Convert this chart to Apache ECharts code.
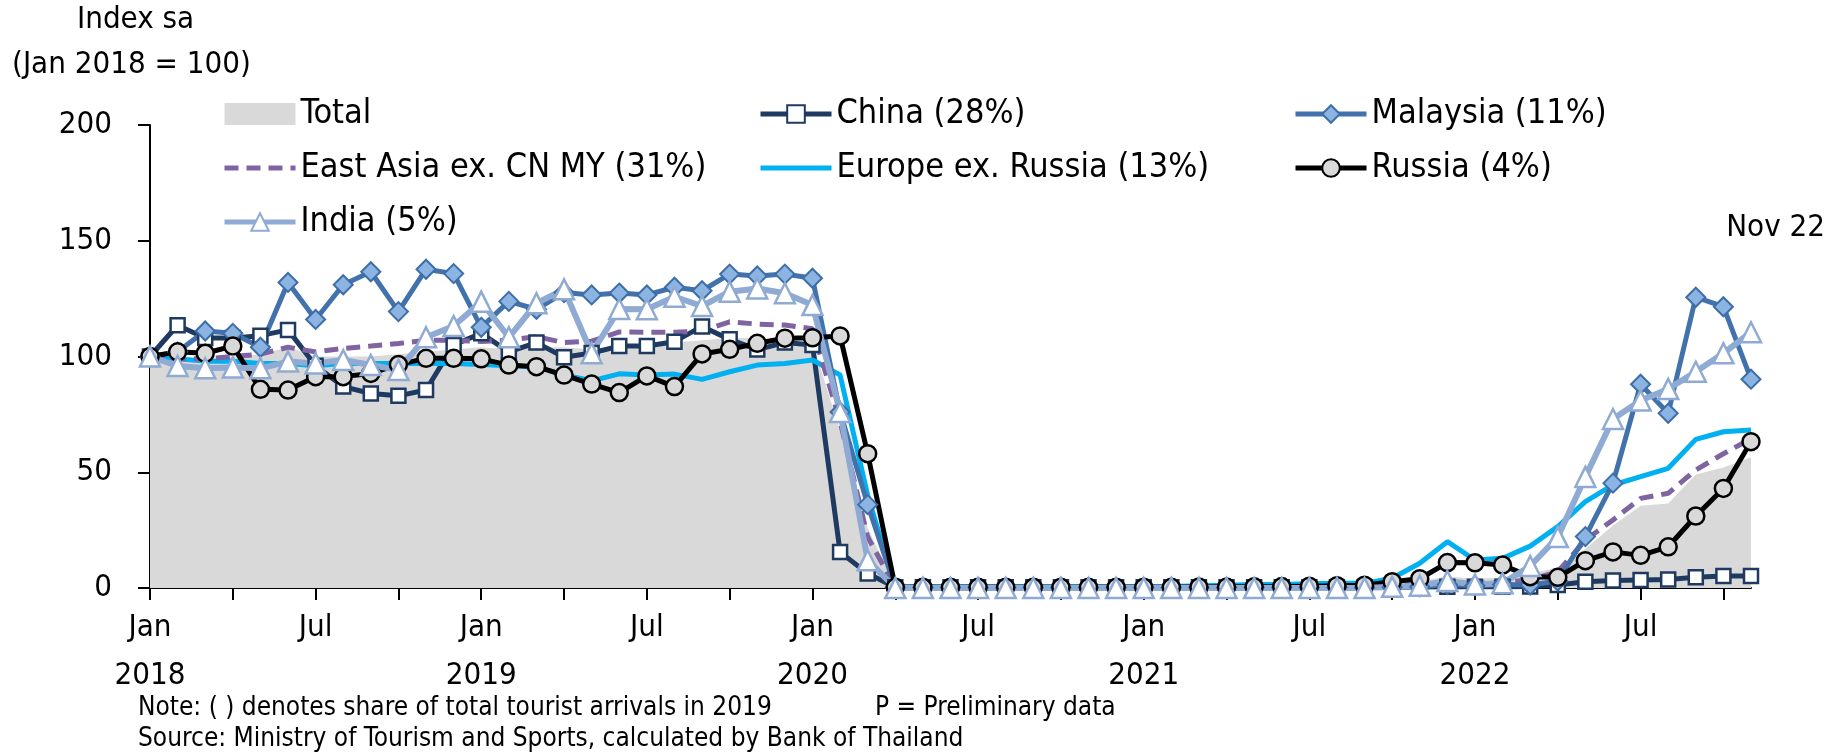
<!DOCTYPE html>
<html>
<head>
<meta charset="utf-8">
<script src="https://cdn.jsdelivr.net/npm/echarts@6/dist/echarts.min.js"></script>
<style>
  html, body { margin: 0; padding: 0; background: #fff; }
  #chart { width: 1835px; height: 753px; }
</style>
</head>
<body>
<div id="chart"></div>
<script>
// Months Jan 2018 .. Nov 2022
const monthNames = ['Jan', 'Feb', 'Mar', 'Apr', 'May', 'Jun', 'Jul', 'Aug', 'Sep', 'Oct', 'Nov', 'Dec'];
const years = [2018, 2019, 2020, 2021, 2022];
const lastMonthCount = 11; // 2022 ends at Nov

const total = [
    100, 99, 99, 100, 101, 104, 100, 100, 100, 101, 102, 103,
    104, 103, 104, 104, 103, 104, 104, 106, 107, 108, 108, 107,
    106, 68, 26, 0.5, 0.5, 0.5, 0.5, 0.5, 0.5, 0.5, 0.5, 0.7,
    0.6, 0.5, 0.5, 0.6, 0.6, 0.6, 0.8, 0.9, 1.0, 1.8, 3, 5,
    4, 4.5, 6, 9, 17, 27, 35.5, 36.5, 49, 52, 56.5
];
const china = [
    100, 113.5, 108, 108, 109, 111.5, 96, 87, 84, 83, 85.5, 105,
    110, 102, 106, 99.7, 101.5, 104.5, 104.5, 106.4, 113, 107.4, 103, 106,
    105, 15.5, 6.3, 0.3, 0.3, 0.3, 0.3, 0.3, 0.3, 0.3, 0.3, 0.3,
    0.3, 0.3, 0.3, 0.3, 0.3, 0.3, 0.3, 0.3, 0.3, 0.4, 0.4, 0.5,
    0.5, 0.5, 0.6, 1.3, 2.7, 3.2, 3.5, 3.7, 4.6, 5.2, 5.2
];
const malaysia = [
    100, 102, 111, 110, 104, 132, 116, 131, 136.6, 119.4, 137.7, 135.8,
    112.6, 123.8, 120.4, 127.6, 126.6, 127.4, 126.6, 129.9, 128.4, 135.6, 134.8, 135.6,
    133.8, 76, 36, 0.2, 0.2, 0.2, 0.2, 0.2, 0.2, 0.2, 0.2, 0.2,
    0.2, 0.2, 0.2, 0.2, 0.2, 0.2, 0.2, 0.2, 0.2, 0.3, 0.5, 1.5,
    1, 1.5, 1.3, 3, 22.2, 45.3, 88, 75.5, 125.6, 121.5, 90.2
];
const eastAsia = [
    100, 99, 99, 100, 101, 104, 102, 103.5, 104.5, 105.6, 107, 107,
    106.5, 107, 108.6, 106, 106.6, 110.6, 110.5, 110.5, 111, 115, 114, 113.6,
    112, 72, 22, 0.3, 0.3, 0.3, 0.3, 0.3, 0.3, 0.3, 0.3, 0.3,
    0.4, 0.4, 0.4, 0.4, 0.4, 0.5, 0.5, 0.5, 0.6, 1, 1.5, 2,
    2, 2.5, 3.5, 7, 20.7, 29.4, 38.7, 40.9, 51, 58, 64.5
];
const europe = [
    100, 99, 98, 98, 97, 97, 96, 97, 97, 97, 97, 97,
    96.5, 96, 95.5, 92, 89.5, 92.5, 92, 92.4, 90.1, 93.4, 96.3, 97,
    98.5, 92, 40, 0.5, 0.5, 0.5, 0.5, 0.5, 0.5, 0.5, 0.5, 0.5,
    0.5, 0.6, 1, 1.2, 1.5, 1.5, 1.8, 2, 2, 4.2, 10.7, 20,
    12.1, 12.8, 18.1, 26.5, 37.3, 44.5, 48.1, 51.7, 64.2, 67.5, 68.3
];
const russia = [
    100, 102, 101.4, 104.5, 85.8, 85.5, 91.3, 91.3, 92.7, 96.5, 99.2, 99.2,
    99, 96.3, 95.6, 92, 88.1, 84.4, 91.6, 87, 101.1, 103.1, 105.7, 107.9,
    108.1, 108.9, 58, 0.3, 0.3, 0.3, 0.3, 0.3, 0.3, 0.3, 0.3, 0.3,
    0.3, 0.3, 0.4, 0.4, 0.5, 0.6, 0.8, 1, 1.2, 2.7, 4, 11,
    10.9, 9.9, 4.9, 4.6, 11.8, 15.6, 14.1, 17.8, 31.1, 43, 63.2
];
const india = [
    100, 95.9, 94.9, 95.3, 94.9, 97.8, 97, 98.5, 96.3, 94.2, 108.3, 113.2,
    123.7, 108.3, 123, 129, 101.4, 120.5, 120.4, 125.8, 121.8, 128, 129.4, 127.3,
    122.2, 76, 12, 0, 0, 0, 0, 0, 0, 0, 0, 0,
    0, 0, 0, 0, 0, 0, 0, 0, 0, 0.5, 1, 3,
    1.5, 2, 9.5, 22, 48, 73, 81, 86, 93.4, 101.4, 110.5
];

const yTicks = [0, 50, 100, 150, 200];

// category labels "Jan 2018" ...
const categories = [];
years.forEach(function(y, i) {
    const n = i === years.length - 1 ? lastMonthCount : 12;
    for (let m = 0; m < n; m++) categories.push(monthNames[m] + ' ' + y);
});

const FONT = '"DejaVu Sans Condensed", "DejaVu Sans", sans-serif';

const chart = echarts.init(document.getElementById('chart'));

function lineSeries(name, data, color, width, extra) {
    return Object.assign({
        name: name,
        type: 'line',
        data: data,
        showAllSymbol: true,
        lineStyle: { color: color, width: width },
        itemStyle: { color: color },
        emphasis: { disabled: true }
    }, extra);
}

function legendCol(left, items) {
    return {
        orient: 'vertical', left: left, top: 97, itemGap: 20, padding: 0,
        itemWidth: 71, itemHeight: 22,
        lineStyle: { width: 5 },
        textStyle: { fontSize: 34, color: '#000', lineHeight: 30, fontFamily: FONT },
        data: items
    };
}

const option = {
    animation: false,
    textStyle: { fontFamily: FONT },
    grid: { left: 150, right: 84, top: 125, bottom: 165, containLabel: false },
    legend: [
        legendCol(222, [
            { name: 'Total', icon: 'rect', itemStyle: { color: '#d9d9d9', borderWidth: 0 } },
            { name: 'East Asia ex. CN MY (31%)', itemStyle: { opacity: 0 } },
            'India (5%)'
        ]),
        legendCol(758, [
            'China (28%)',
            { name: 'Europe ex. Russia (13%)', itemStyle: { opacity: 0 } }
        ]),
        legendCol(1293, ['Malaysia (11%)', 'Russia (4%)'])
    ],
    xAxis: {
        type: 'category',
        data: categories,
        boundaryGap: false,
        axisLine: { lineStyle: { color: '#000', width: 2 } },
        axisTick: { interval: 2, length: 12, lineStyle: { color: '#000', width: 2 } },
        axisLabel: {
            interval: 5,
            margin: 16,
            fontSize: 31,
            lineHeight: 48,
            color: '#000',
            fontFamily: FONT,
            formatter: function(v) {
                const p = v.split(' ');
                return p[0] === 'Jan' ? p[0] + '\n' + p[1] : p[0];
            }
        },
        splitLine: { show: false }
    },
    yAxis: {
        type: 'value',
        min: 0,
        max: 200,
        interval: 50,
        axisLine: { show: true, lineStyle: { color: '#000', width: 2 } },
        axisTick: { show: true, length: 12, lineStyle: { color: '#000', width: 2 } },
        axisLabel: {
            margin: 38, fontSize: 31, color: '#000', fontFamily: FONT,
            formatter: function(v) { return yTicks.indexOf(v) >= 0 ? String(v) : ''; }
        },
        splitLine: { show: false }
    },
    graphic: [
        { type: 'text', left: 77, top: 4, style: { text: 'Index sa', font: '31px ' + FONT, fill: '#000' } },
        { type: 'text', left: 12, top: 49, style: { text: '(Jan 2018 = 100)', font: '31px ' + FONT, fill: '#000' } },
        { type: 'text', right: 10, top: 212, style: { text: 'Nov 22', font: '31px ' + FONT, fill: '#000' } },
        { type: 'text', left: 138, top: 695, style: { text: 'Note: ( ) denotes share of total tourist arrivals in 2019', font: '26px ' + FONT, fill: '#000' } },
        { type: 'text', left: 875, top: 695, style: { text: 'P = Preliminary data', font: '26px ' + FONT, fill: '#000' } },
        { type: 'text', left: 138, top: 726, style: { text: 'Source: Ministry of Tourism and Sports, calculated by Bank of Thailand', font: '26px ' + FONT, fill: '#000' } }
    ],
    series: [
        {
            name: 'Total',
            type: 'line',
            data: total,
            symbol: 'none',
            lineStyle: { width: 0, color: '#d9d9d9' },
            itemStyle: { color: '#d9d9d9' },
            areaStyle: { color: '#d9d9d9', opacity: 1 },
            emphasis: { disabled: true }
        },
        lineSeries('China (28%)', china, '#1f3a60', 5, {
            symbol: 'rect', symbolSize: 14,
            itemStyle: { color: '#ffffff', borderColor: '#1f3a60', borderWidth: 2.5 }
        }),
        lineSeries('Europe ex. Russia (13%)', europe, '#00b0f0', 5, { symbol: 'none' }),
        lineSeries('East Asia ex. CN MY (31%)', eastAsia, '#8064a2', 5, {
            symbol: 'none',
            lineStyle: { color: '#8064a2', width: 5, type: [14, 8] }
        }),
        lineSeries('Malaysia (11%)', malaysia, '#4272ab', 5, {
            symbol: 'diamond', symbolSize: 19,
            itemStyle: { color: '#8cb4e2', borderColor: '#3d6ea8', borderWidth: 2 }
        }),
        lineSeries('Russia (4%)', russia, '#000000', 5, {
            symbol: 'circle', symbolSize: 17,
            itemStyle: { color: '#d9d9d9', borderColor: '#000000', borderWidth: 2.5 }
        }),
        lineSeries('India (5%)', india, '#8faad3', 6, {
            symbol: 'triangle', symbolSize: 20,
            itemStyle: { color: '#ffffff', borderColor: '#8faad3', borderWidth: 2.5 }
        })
    ]
};

chart.setOption(option);
</script>
</body>
</html>
